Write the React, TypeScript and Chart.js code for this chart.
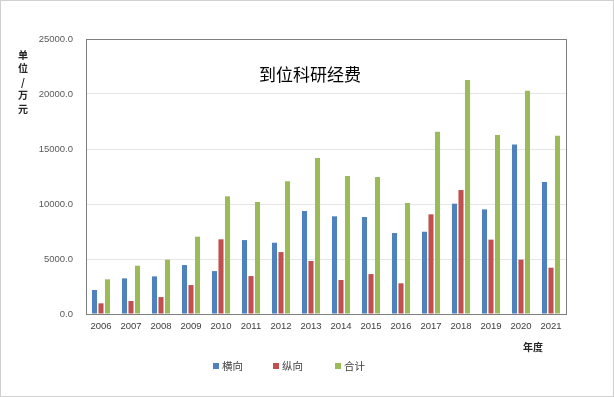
import React, { useEffect, useRef } from "react";
import { Chart, registerables } from "chart.js";

Chart.register(...registerables);

const categories = ["2006","2007","2008","2009","2010","2011","2012","2013","2014","2015","2016","2017","2018","2019","2020","2021"];
const horizontal = [2180, 3240, 3420, 4450, 3900, 6720, 6480, 9360, 8880, 8820, 7360, 7480, 10030, 9510, 15420, 12000];
const vertical = [970, 1180, 1540, 2630, 6790, 3450, 5630, 4820, 3090, 3630, 2790, 9060, 11270, 6760, 4940, 4210];
const total = [3150, 4390, 4940, 7030, 10700, 10180, 12060, 14180, 12540, 12450, 10090, 16570, 21270, 16270, 20300, 16210];
const seriesNames = ["横向", "纵向", "合计"];
const colors = ["#4F81BD", "#C0504D", "#9BBB59"];
const titleText = "到位科研经费";
const yAxisLabel = ["单", "位", "/", "万", "元"];
const xAxisLabel = "年度";

const decor = {
  id: "decor",
  afterDraw(chart: any) {
    const { ctx, chartArea } = chart;
    const { left, right, top, bottom } = chartArea;
    ctx.save();
    ctx.strokeStyle = "#7f7f7f";
    ctx.lineWidth = 1;
    ctx.strokeRect(Math.round(left) + 0.5, Math.round(top) + 0.5, Math.round(right - left), Math.round(bottom - top));
    ctx.fillStyle = "#000";
    ctx.font = "17px 'Noto Sans CJK SC'";
    ctx.textAlign = "center";
    ctx.textBaseline = "middle";
    ctx.fillText(titleText, (left + right) / 2 - 16, top + 36);
    ctx.font = "bold 10px 'Noto Sans CJK SC'";
    ctx.fillStyle = "#262626";
    yAxisLabel.forEach((c, i) => {
      ctx.fillText(c, 22, 54 + i * 13.5);
    });
    ctx.fillText(xAxisLabel, 532, 346);
    ctx.font = "10.5px 'Noto Sans CJK SC'";
    ctx.textAlign = "left";
    const xs = [212, 272, 334];
    seriesNames.forEach((n, i) => {
      ctx.fillStyle = colors[i];
      ctx.fillRect(xs[i], 362, 6, 6);
      ctx.fillStyle = "#404040";
      ctx.fillText(n, xs[i] + 9, 365.5);
    });
    ctx.restore();
  },
};

export default function App() {
  const ref = useRef<HTMLCanvasElement>(null);
  useEffect(() => {
    const chart = new Chart(ref.current!, {
      type: "bar",
      data: {
        labels: categories,
        datasets: [horizontal, vertical, total].map((d, i) => ({
          label: seriesNames[i],
          data: d,
          backgroundColor: colors[i],
          categoryPercentage: 0.65,
          barPercentage: 0.78,
        })),
      },
      options: {
        animation: false,
        responsive: false,
        layout: { padding: { left: 0, top: 38, right: 47, bottom: 62 } },
        plugins: { legend: { display: false }, title: { display: false }, tooltip: { enabled: false } },
        scales: {
          x: {
            grid: { display: false, drawTicks: false },
            border: { display: true, color: "#7f7f7f" },
            ticks: { color: "#404040", font: { family: "'Liberation Sans'", size: 9.5 }, padding: 7, maxRotation: 0, autoSkip: false },
            afterFit: (s: any) => { s.height = 20; },
          },
          y: {
            min: 0,
            max: 25000,
            grid: { color: "#e6e6e6", drawTicks: false },
            border: { display: true, color: "#7f7f7f" },
            ticks: {
              stepSize: 5000,
              color: "#595959",
              font: { family: "'Liberation Sans'", size: 9.5 },
              padding: 13,
              callback: (v: any) => Number(v).toFixed(1),
            },
            afterFit: (s: any) => { s.width = 85; },
          },
        },
      },
      plugins: [decor],
    });
    return () => chart.destroy();
  }, []);
  return (
    <div style={{ position: "absolute", left: 0, top: 0, width: 614, height: 397, boxSizing: "border-box", border: "1px solid #d0d0d0", background: "#fff" }}>
      <canvas ref={ref} width={612} height={395} style={{ width: 612, height: 395, display: "block" }} />
    </div>
  );
}
